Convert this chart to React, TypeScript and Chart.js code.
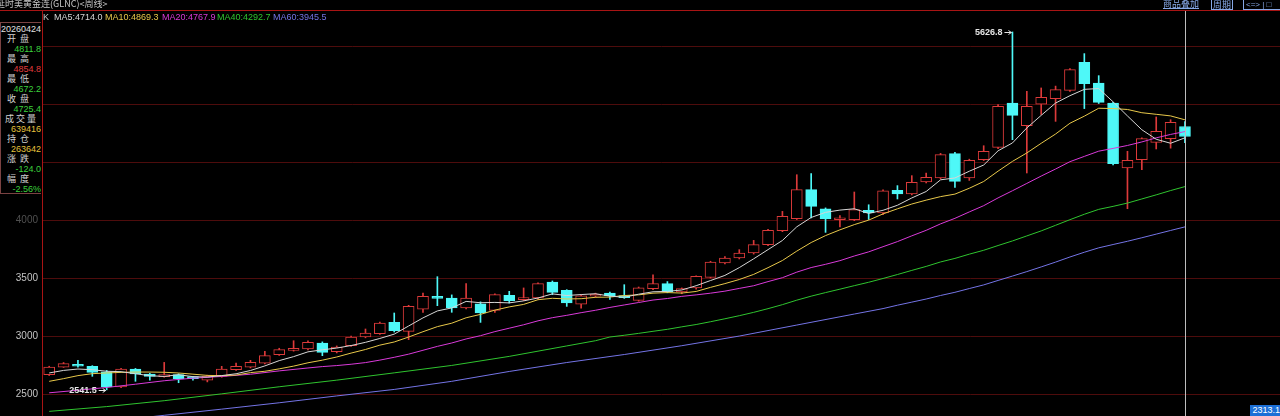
import React, { useEffect, useRef } from 'react';
import { Chart, registerables } from 'chart.js';

Chart.register(...registerables);

// ---- Weekly OHLC (80 weeks, last = 2026-04-24) ----
const opens = [
  2672, 2738, 2755, 2744, 2696, 2566, 2721, 2678, 2655, 2672,
  2649, 2625, 2658, 2715, 2738, 2772, 2845, 2882, 2894, 2945,
  2871, 2922, 2997, 3026, 3123, 3046, 3238, 3342, 3333, 3247,
  3284, 3227, 3356, 3319, 3333, 3471, 3399, 3281, 3348, 3376,
  3353, 3313, 3414, 3457, 3385, 3420, 3511, 3635, 3678, 3721,
  3793, 3914, 4017, 4267, 4103, 4008, 4008, 4089, 4066, 4261,
  4230, 4333, 4368, 4578, 4368, 4526, 4632, 5014, 4819, 5005,
  5052, 5123, 5365, 5187, 5014, 4454, 4526, 4675, 4707, 4811.8,
];
const highs = [
  2745, 2777, 2796, 2750, 2709, 2728, 2726, 2685, 2778, 2680,
  2655, 2668, 2744, 2773, 2796, 2873, 2900, 2965, 2965, 2955,
  2920, 3005, 3066, 3125, 3204, 3270, 3376, 3517, 3360, 3457,
  3300, 3370, 3391, 3420, 3465, 3480, 3405, 3360, 3375, 3385,
  3448, 3428, 3534, 3475, 3420, 3525, 3650, 3690, 3750, 3830,
  3925, 4080, 4396, 4405, 4110, 4043, 4247, 4137, 4265, 4302,
  4388, 4410, 4580, 4590, 4530, 4646, 5000, 5626.8, 5115, 5144,
  5160, 5310, 5440, 5250, 5020, 4598, 4715, 4894, 4870, 4854.8,
];
const lows = [
  2665, 2735, 2738, 2658, 2541.5, 2560, 2615, 2625, 2650, 2603,
  2625, 2610, 2650, 2710, 2730, 2765, 2838, 2875, 2885, 2836,
  2860, 2915, 2990, 3020, 3040, 2974, 3210, 3267, 3210, 3240,
  3123, 3210, 3290, 3310, 3325, 3362, 3261, 3245, 3340, 3320,
  3330, 3305, 3405, 3378, 3370, 3410, 3505, 3628, 3670, 3712,
  3785, 3905, 4010, 4023, 3899, 3945, 4000, 4010, 4052, 4187,
  4222, 4325, 4360, 4287, 4347, 4518, 4620, 4698, 4411, 4915,
  4856, 5115, 4966, 5010, 4480, 4103, 4439, 4618, 4625, 4672.2,
];
const closes = [
  2738, 2767, 2745, 2692, 2566, 2721, 2678, 2658, 2664, 2638,
  2638, 2660, 2721, 2744, 2778, 2836, 2888, 2893, 2951, 2865,
  2911, 2997, 3031, 3118, 3052, 3261, 3348, 3330, 3247, 3333,
  3204, 3362, 3310, 3333, 3457, 3382, 3290, 3353, 3368, 3353,
  3336, 3420, 3457, 3385, 3414, 3520, 3643, 3678, 3721, 3793,
  3917, 4037, 4267, 4123, 4014, 4014, 4095, 4066, 4258, 4230,
  4330, 4373, 4569, 4339, 4520, 4598, 4985, 4908, 4985, 5063,
  5129, 5302, 5181, 5020, 4491, 4520, 4707, 4770, 4848, 4725.4,
];

const ma5Head: [number, number][] = [[1, 2687], [2, 2709], [3, 2721], [4, 2715]];
const ma10Head: [number, number][] = [[1, 2615], [2, 2638], [3, 2664], [4, 2681], [5, 2687], [6, 2692], [7, 2695], [8, 2695], [9, 2693]];
const ma20Head: [number, number][] = [[1, 2516], [3, 2538], [5, 2562], [7, 2590], [9, 2620], [11, 2642], [13, 2657], [15, 2676], [17, 2705], [19, 2730]];
const ma40Head: [number, number][] = [[1, 2356], [5, 2397], [9, 2448], [13, 2507], [17, 2568], [21, 2625], [25, 2688], [29, 2752], [33, 2830], [37, 2920], [39, 2965]];
const ma60Head: [number, number][] = [[1, 2215], [5, 2268], [9, 2322], [13, 2375], [17, 2430], [21, 2489], [25, 2545], [29, 2615], [33, 2700], [37, 2777], [41, 2846], [45, 2922], [49, 3005], [53, 3100], [57, 3195], [59, 3242]];

const maPeriods = [5, 10, 20, 40, 60];
const maLegendValues = ['4714.0', '4869.3', '4767.9', '4292.7', '3945.5'];
const maColors = ['#d6d6d6', '#e8c84a', '#d93ad9', '#2fc42f', '#7474e6'];

const yTicks = [2500, 3000, 3500, 4000, 4500, 5000, 5500];

const titleText = '延时美黄金连(GLNC)<周线>';
const infoDate = '20260424';
const infoLabels = ['开盘', '最高', '最低', '收盘', '成交量', '持仓', '涨跌', '幅度'];
const infoValues = ['4811.8', '4854.8', '4672.2', '4725.4', '639416', '263642', '-124.0', '-2.56%'];
const infoColors = ['#3cd23c', '#e03c3c', '#3cd23c', '#3cd23c', '#e6c23c', '#e6c23c', '#3cd23c', '#3cd23c'];
const cornerPrice = '2313.1';

const UP = '#dc3a3a';
const DOWN = '#4ef8f8';
const LATIN = '"Liberation Sans", Arial, sans-serif';
const CJK = '"Noto Sans CJK SC", sans-serif';

function buildMA(n: number, head: [number, number][]) {
  const pts = head.map(([i, v]) => ({ x: i, y: v }));
  for (let i = n - 1; i < closes.length; i++) {
    let s = 0;
    for (let k = i - n + 1; k <= i; k++) s += closes[k];
    pts.push({ x: i + 1, y: s / n });
  }
  return pts;
}

const overlayPlugin = {
  id: 'overlayMarks',
  afterDatasetsDraw(chart: any) {
    const { ctx, scales, chartArea } = chart;
    const xs = scales.x;
    const ys = scales.y;
    ctx.save();
    // top border line
    ctx.fillStyle = '#a81414';
    ctx.fillRect(0, chartArea.top - 1, chart.width, 1);

    // crosshair on the last week
    const lx = Math.round(xs.getPixelForValue(closes.length)) + 0.5;
    ctx.strokeStyle = '#bdbdbd';
    ctx.lineWidth = 1;
    ctx.beginPath();
    ctx.moveTo(lx, chartArea.top);
    ctx.lineTo(lx, chartArea.bottom);
    ctx.stroke();

    // max / min annotations
    let hi = 0;
    let lo = 0;
    for (let i = 0; i < highs.length; i++) {
      if (highs[i] > highs[hi]) hi = i;
      if (lows[i] < lows[lo]) lo = i;
    }
    const mark = (idx: number, v: number) => {
      const px = xs.getPixelForValue(idx + 1);
      const py = Math.round(ys.getPixelForValue(v)) + 0.5;
      ctx.fillStyle = '#e6e6e6';
      ctx.strokeStyle = '#e6e6e6';
      ctx.font = `bold 9px ${LATIN}`;
      ctx.textAlign = 'right';
      ctx.textBaseline = 'middle';
      ctx.fillText(v.toFixed(1), px - 10, py);
      ctx.beginPath();
      ctx.moveTo(px - 8, py);
      ctx.lineTo(px - 1, py);
      ctx.moveTo(px - 4, py - 2);
      ctx.lineTo(px - 1, py);
      ctx.lineTo(px - 4, py + 2);
      ctx.stroke();
    };
    mark(hi, highs[hi]);
    mark(lo, lows[lo]);
    ctx.restore();
  },
};

function ChartCanvas() {
  const ref = useRef<HTMLCanvasElement | null>(null);
  useEffect(() => {
    if (!ref.current) return;
    Chart.defaults.font.family = LATIN;
    const up = closes.map((c, i) => c >= opens[i]);
    const lineSets = maPeriods.map((p, k) => ({
      type: 'line' as const,
      data: buildMA(p, [ma5Head, ma10Head, ma20Head, ma40Head, ma60Head][k]),
      borderColor: maColors[k],
      borderWidth: 1,
      pointRadius: 0,
      tension: 0,
      order: 0,
    }));
    const chart = new Chart(ref.current, {
      type: 'bar',
      data: {
        datasets: [
          ...lineSets,
          {
            type: 'bar',
            data: opens.map((o, i) => ({ x: i + 1, y: [o, closes[i]] })),
            backgroundColor: up.map((u) => (u ? '#000000' : DOWN)),
            borderColor: up.map((u) => (u ? UP : DOWN)),
            borderWidth: 1,
            borderSkipped: false,
            barThickness: 11,
            minBarLength: 2,
            grouped: false,
            order: 1,
          },
          {
            type: 'bar',
            data: lows.map((l, i) => ({ x: i + 1, y: [l, highs[i]] })),
            backgroundColor: up.map((u) => (u ? UP : DOWN)),
            borderWidth: 0,
            barThickness: 1,
            grouped: false,
            order: 2,
          },
        ] as any,
      },
      options: {
        animation: false,
        responsive: false,
        devicePixelRatio: 1,
        layout: { padding: { top: 11, left: 0, right: 0, bottom: 0 } },
        plugins: { legend: { display: false }, tooltip: { enabled: false } },
        scales: {
          x: {
            type: 'linear',
            min: 0.5,
            max: 86.61,
            offset: false,
            display: false,
          },
          y: {
            type: 'linear',
            position: 'left',
            min: 2316,
            max: 5807.4,
            afterFit: (s: any) => {
              s.width = 42;
              s.paddingTop = 0;
              s.paddingBottom = 0;
            },
            afterBuildTicks: (s: any) => {
              s.ticks = yTicks.map((v) => ({ value: v }));
            },
            ticks: {
              padding: 4,
              font: { size: 10, family: LATIN },
              color: (c: any) => (c.tick && c.tick.value === 4000 ? '#505050' : '#c4c4c4'),
              callback: (v: any) => String(v),
            },
            grid: { color: '#4e0c0c', drawTicks: false, lineWidth: 1 },
            border: { color: '#a81414', width: 1 },
          },
        },
      } as any,
      plugins: [overlayPlugin],
    });
    return () => chart.destroy();
  }, []);
  return <canvas ref={ref} width={1280} height={416} style={{ position: 'absolute', left: 0, top: 0, width: 1280, height: 416 }} />;
}

export default function App() {
  const legendX = [54, 105, 162, 217, 273];
  return (
    <div style={{ position: 'fixed', left: 0, top: 0, width: 1280, height: 416, background: '#000', overflow: 'hidden' }}>
      <ChartCanvas />
      {/* title */}
      <div style={{ position: 'absolute', left: -4, top: -2, font: `9px ${CJK}`, color: '#c8c8c8', whiteSpace: 'nowrap', lineHeight: '12px' }}>
        {titleText}
      </div>
      {/* right header */}
      <div style={{ position: 'absolute', left: 1163, top: -2, font: `9px ${CJK}`, color: '#86a8e6', lineHeight: '11px', textDecoration: 'underline', whiteSpace: 'nowrap' }}>
        商品叠加
      </div>
      <div style={{ position: 'absolute', left: 1211, top: -1, font: `9px ${CJK}`, color: '#86a8e6', lineHeight: '9px', border: '1px solid #86a8e6', padding: '0 1px', whiteSpace: 'nowrap' }}>
        周期
      </div>
      <div style={{ position: 'absolute', left: 1243, top: -1, font: `8px ${LATIN}`, color: '#86a8e6', lineHeight: '9px', border: '1px solid #86a8e6', padding: '0 2px', whiteSpace: 'nowrap', width: 34 }}>
        {'<=>'} | □
      </div>
      {/* MA legend */}
      <div style={{ position: 'absolute', left: 43, top: 12, font: `9px ${LATIN}`, color: '#c8c8c8', lineHeight: '11px' }}>K</div>
      {maPeriods.map((p, k) => (
        <div
          key={p}
          style={{ position: 'absolute', left: legendX[k], top: 12, font: `9px ${LATIN}`, color: maColors[k], lineHeight: '11px', whiteSpace: 'nowrap' }}
        >
          {`MA${p}:${maLegendValues[k]}`}
        </div>
      ))}
      {/* info panel */}
      <div
        style={{
          position: 'absolute',
          left: 0,
          top: 22,
          width: 41,
          height: 172,
          background: '#000',
          borderTop: '1px solid #7a4242',
          borderLeft: '1px solid #7a4242',
          borderBottom: '1px solid #7a4242',
          boxSizing: 'border-box',
        }}
      >
        <div style={{ position: 'absolute', right: 0, top: 1, font: `9px ${LATIN}`, color: '#e0e0e0', lineHeight: '10px' }}>{infoDate}</div>
        {infoLabels.map((lab, i) => (
          <React.Fragment key={lab}>
            <div
              style={{
                position: 'absolute',
                left: lab.length === 3 ? 4 : 6,
                top: 11 + i * 20,
                font: `9px ${CJK}`,
                color: '#d2d2d2',
                lineHeight: '10px',
                letterSpacing: lab.length === 3 ? 2 : 4,
                whiteSpace: 'nowrap',
              }}
            >
              {lab}
            </div>
            <div style={{ position: 'absolute', right: 0, top: 21 + i * 20, font: `9px ${LATIN}`, color: infoColors[i], lineHeight: '10px' }}>
              {infoValues[i]}
            </div>
          </React.Fragment>
        ))}
      </div>
      {/* bottom-right price tag */}
      <div
        style={{
          position: 'absolute',
          left: 1250,
          top: 405,
          width: 30,
          height: 11,
          background: '#1c6fd6',
          color: '#ffffff',
          font: `9px ${LATIN}`,
          lineHeight: '11px',
          textAlign: 'right',
          whiteSpace: 'nowrap',
        }}
      >
        {cornerPrice}
      </div>
    </div>
  );
}
